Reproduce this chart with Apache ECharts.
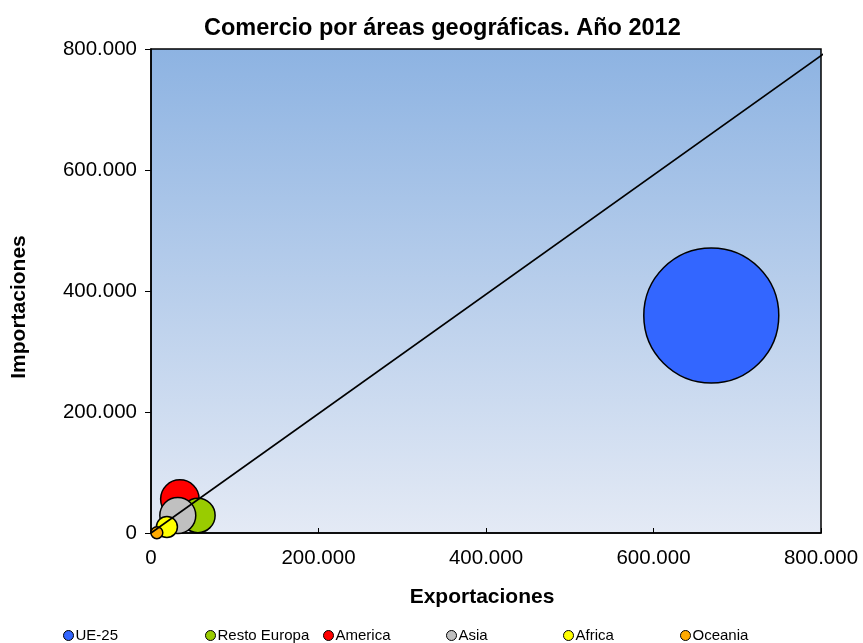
<!DOCTYPE html>
<html>
<head>
<meta charset="utf-8">
<script src="https://cdn.jsdelivr.net/npm/echarts@6/dist/echarts.min.js"></script>
<style>html,body{margin:0;padding:0;background:#fff}#c{width:863px;height:643px}</style>
</head>
<body>
<div id="c"></div>
<script>
const areas = ['UE-25', 'Resto Europa', 'America', 'Asia', 'Africa', 'Oceania'];
const exportaciones = [669000, 56000, 34500, 32000, 19000, 7000];
const importaciones = [359500, 29000, 56000, 29000, 10000, 500];
const comercio = [1030, 67, 84, 73, 25, 8];
const colores = ['#3366FF', '#99CC00', '#FF0000', '#C0C0C0', '#FFFF00', '#FFAA00'];
const diagonalX = [0, 808000];
const diagonalY = [0, 797000];
const axisTicks = [0, 200000, 400000, 600000, 800000];

const fmt = v => v === 0 ? '0' : (v / 1000).toFixed(0) + '.000';
const maxSize = comercio[0];
const legendLeft = [58, 200, 318, 441, 558, 675];
const drawOrder = [0, 2, 1, 3, 4, 5];

const series = drawOrder.map(i => ({
  name: areas[i],
  type: 'scatter',
  clip: true,
  data: [[exportaciones[i], importaciones[i], comercio[i]]],
  symbolSize: d => 135 * Math.sqrt(d[2] / maxSize),
  itemStyle: { color: colores[i], borderColor: '#000', borderWidth: 1.5, opacity: 1 },
  emphasis: { disabled: true },
  z: 3
}));
series.push({
  type: 'line',
  data: diagonalX.map((x, k) => [x, diagonalY[k]]),
  symbol: 'none',
  clip: false,
  lineStyle: { color: '#000', width: 1.6 },
  z: 5,
  silent: true
});

const chart = echarts.init(document.getElementById('c'));
chart.setOption({
  animation: false,
  title: {
    text: 'Comercio por áreas geográficas. Año 2012',
    left: 199, top: 12,
    textStyle: { fontFamily: 'Liberation Sans', fontWeight: 'bold', fontSize: 23.5, color: '#000' }
  },
  legend: areas.map((n, i) => ({
    data: [n], left: legendLeft[i], top: 623, icon: 'circle', itemWidth: 10, itemHeight: 10, itemGap: 2,
    textStyle: { fontFamily: 'Liberation Sans', fontSize: 15, color: '#000', padding: [0, 0, 0, -3] },
    itemStyle: { borderColor: '#000', borderWidth: 1 }
  })),
  grid: {
    left: 151, right: 42, top: 49, bottom: 110, show: true,
    borderColor: '#000', borderWidth: 1.5,
    backgroundColor: new echarts.graphic.LinearGradient(0, 0, 0, 1, [
      { offset: 0, color: '#8DB3E2' }, { offset: 1, color: '#E4EAF5' }
    ])
  },
  xAxis: {
    type: 'value', min: axisTicks[0], max: axisTicks[axisTicks.length - 1], interval: axisTicks[1] - axisTicks[0],
    name: 'Exportaciones', nameLocation: 'middle', nameGap: 54,
    nameTextStyle: { fontFamily: 'Liberation Sans', fontWeight: 'bold', fontSize: 21, color: '#000', padding: [0, 8, 0, 0] },
    axisLine: { lineStyle: { color: '#000', width: 1.5 } },
    axisTick: { show: true, inside: true, length: 5, lineStyle: { color: '#000' } },
    splitLine: { show: false },
    axisLabel: { formatter: fmt, fontFamily: 'Liberation Sans', fontSize: 20.5, color: '#000', margin: 15 }
  },
  yAxis: {
    type: 'value', min: axisTicks[0], max: axisTicks[axisTicks.length - 1], interval: axisTicks[1] - axisTicks[0],
    name: 'Importaciones', nameLocation: 'middle', nameGap: 121, nameRotate: 90,
    nameTextStyle: { fontFamily: 'Liberation Sans', fontWeight: 'bold', fontSize: 21, color: '#000', padding: [0, 32, 0, 0] },
    axisLine: { show: true, lineStyle: { color: '#000', width: 1.5 } },
    axisTick: { show: true, length: 6, lineStyle: { color: '#000' } },
    splitLine: { show: false },
    axisLabel: { formatter: fmt, fontFamily: 'Liberation Sans', fontSize: 20.5, color: '#000', margin: 14 }
  },
  series
});
</script>
</body>
</html>
